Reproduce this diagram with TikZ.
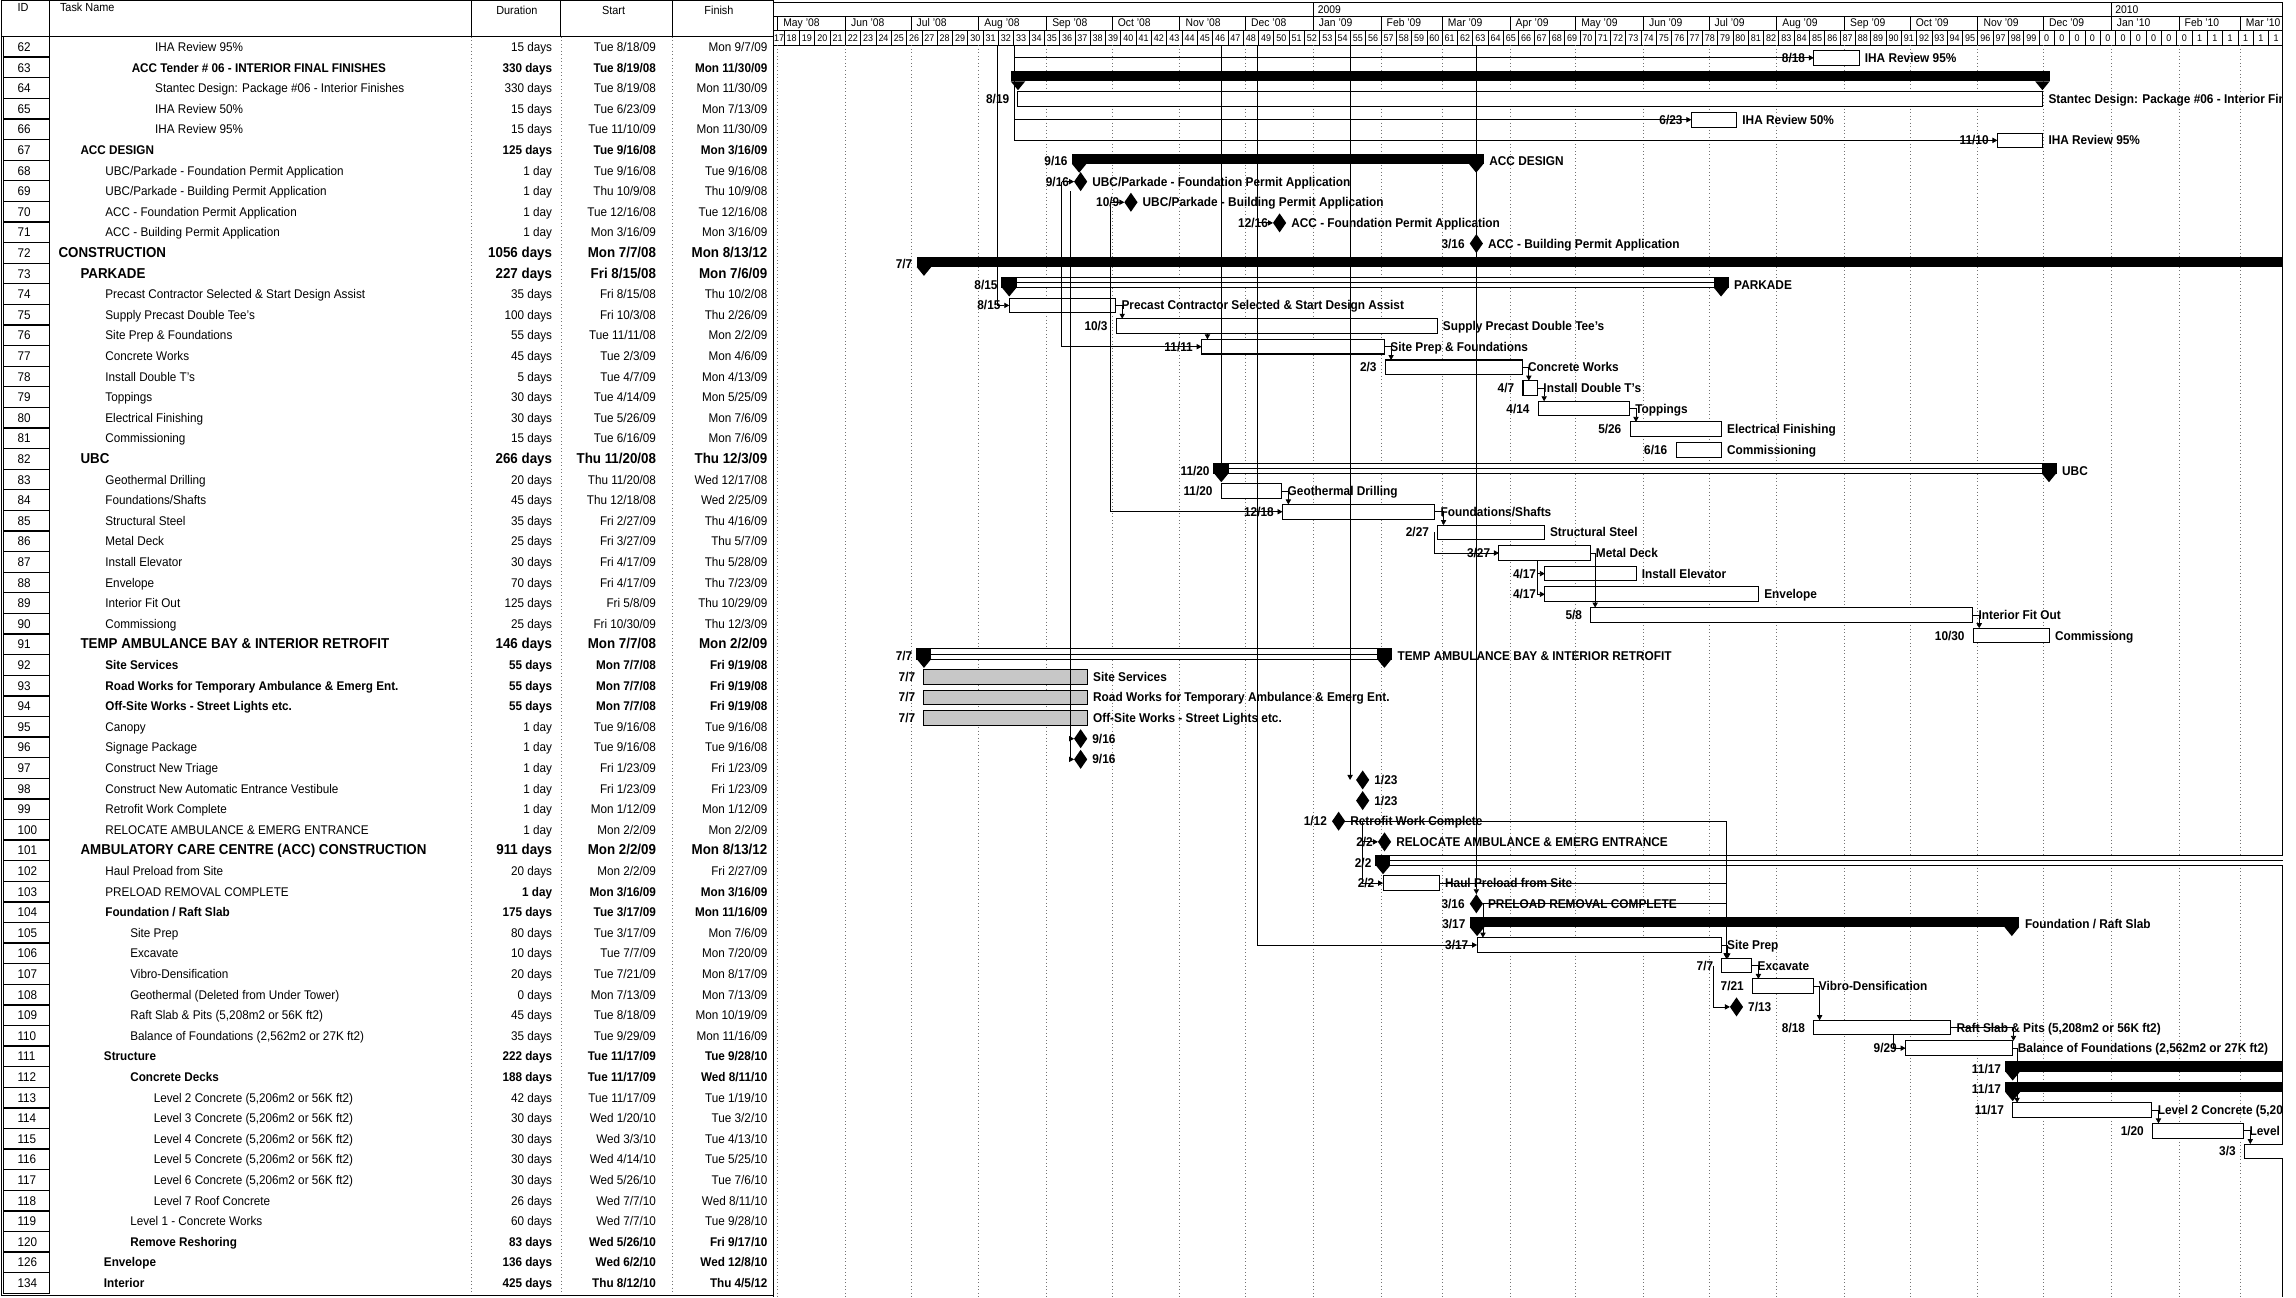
\documentclass[tikz,border=0pt]{standalone}
\usepackage{fontspec}
\setmainfont{Liberation Sans}[FakeStretch=0.93]
\usetikzlibrary{shapes.geometric,arrows.meta,calc}
\tikzset{
 every node/.style={inner sep=0pt,outer sep=0pt},
 link/.style={line width=0.55pt,-{Triangle[length=3.4pt,width=3.6pt]}},
 plainlink/.style={line width=0.55pt},
 taskbox/.style={rectangle,draw,line width=0.7pt,fill=white,minimum height=10pt},
 stipbox/.style={taskbox,fill=black!22},
 sumsolid/.style={rectangle,fill=black,minimum height=7pt},
 sumhollow/.style={rectangle,draw,line width=0.8pt,fill=white,minimum height=7pt},
 mile/.style={diamond,fill=black,minimum width=9pt,minimum height=13pt},
 clab/.style={font=\fontsize{8.7}{9}\selectfont\bfseries},
 tn/.style={font=\fontsize{8.6}{9}\selectfont},
 tb/.style={font=\fontsize{8.6}{9}\selectfont\bfseries},
 tB/.style={font=\fontsize{9.8}{10}\selectfont\bfseries},
 hdr/.style={font=\fontsize{8}{9}\selectfont},
 mon/.style={font=\fontsize{7.6}{8}\selectfont},
 wk/.style={font=\fontsize{6.6}{7}\selectfont},
 idbox/.style={line width=0.9pt},
 gridln/.style={black!55,line width=0.4pt,dotted},
 frame/.style={line width=0.8pt},
}
% table row: #1 index, #2 id, #3 indent, #4 name style, #5 name, #6 data style, #7 dur, #8 start, #9 finish
\newcommand\TRow[9]{%
 \pgfmathsetmacro\gty{32+14.07*#1}%
 \draw[idbox] (2.5,\gty-7.03) rectangle (34,\gty+7.03);%
 \node[tn,anchor=base west] (id#2) at (12,\gty+3.1) {#2};%
 \node[#4,anchor=base west] (nm#2) at (#3,\gty+3.1) {#5};%
 \node[#6,anchor=base east] (du#2) at (377,\gty+3.1) {#7};%
 \node[#6,anchor=base east] (st#2) at (448,\gty+3.1) {#8};%
 \node[#6,anchor=base east] (fi#2) at (524,\gty+3.1) {#9};%
}
\newcommand\RowY[1]{39.5+14.09*(#1)}
% task bar: #1 name, #2 row, #3 start day, #4 finish day, #5 left label, #6 right label, #7 style
\newcommand\Tsk[7]{%
 \pgfmathsetmacro\gxa{737+1.493*(#3)}%
 \pgfmathsetmacro\gxb{737+1.493*(#4+0.7)}%
 \pgfmathsetmacro\gyy{\RowY{#2}}%
 \pgfmathsetmacro\gww{\gxb-\gxa}%
 \node[#7,minimum width=\gww pt,anchor=west] (#1) at (\gxa,\gyy) {};%
 \node[clab,anchor=base east] (#1l) at (\gxa-6,\gyy+3.1) {#5};%
 \node[clab,anchor=base west] (#1r) at (\gxb+4,\gyy+3.1) {#6};%
}
\newcommand\Mil[5]{%
 \pgfmathsetmacro\gxa{737+1.493*(#3)+1}%
 \pgfmathsetmacro\gyy{\RowY{#2}}%
 \node[mile] (#1) at (\gxa,\gyy) {};%
 \node[clab,anchor=base east] (#1l) at (\gxa-8,\gyy+3.1) {#4};%
 \node[clab,anchor=base west] (#1r) at (\gxa+8,\gyy+3.1) {#5};%
}
\newcommand\SumS[6]{%
 \pgfmathsetmacro\gxa{737+1.493*(#3)}%
 \pgfmathsetmacro\gxb{737+1.493*(#4+0.6)}%
 \pgfmathsetmacro\gyy{\RowY{#2}}%
 \pgfmathsetmacro\gww{\gxb-\gxa+10}%
 \node[sumsolid,minimum width=\gww pt,anchor=west] (#1) at (\gxa-5,\gyy-1.5) {};%
 \fill (\gxa-5,\gyy+1.9) -- (\gxa+5,\gyy+1.9) -- (\gxa,\gyy+8) -- cycle;%
 \fill (\gxb-5,\gyy+1.9) -- (\gxb+5,\gyy+1.9) -- (\gxb,\gyy+8) -- cycle;%
 \node[clab,anchor=base east] (#1l) at (\gxa-8,\gyy+3.1) {#5};%
 \node[clab,anchor=base west] (#1r) at (\gxb+9,\gyy+3.1) {#6};%
}
\newcommand\SumH[6]{%
 \pgfmathsetmacro\gxa{737+1.493*(#3)}%
 \pgfmathsetmacro\gxb{737+1.493*(#4+0.6)}%
 \pgfmathsetmacro\gyy{\RowY{#2}}%
 \pgfmathsetmacro\gww{\gxb-\gxa+10}%
 \node[sumhollow,minimum width=\gww pt,anchor=west] (#1) at (\gxa-5,\gyy-1.5) {};%
 \draw[line width=0.5pt] (#1.west) -- (#1.east);%
 \fill (\gxa-5,\gyy-5) rectangle (\gxa+5,\gyy+2);%
 \fill (\gxa-5,\gyy+1.9) -- (\gxa+5,\gyy+1.9) -- (\gxa,\gyy+8) -- cycle;%
 \fill (\gxb-5,\gyy-5) rectangle (\gxb+5,\gyy+2);%
 \fill (\gxb-5,\gyy+1.9) -- (\gxb+5,\gyy+1.9) -- (\gxb,\gyy+8) -- cycle;%
 \node[clab,anchor=base east] (#1l) at (\gxa-8,\gyy+3.1) {#5};%
 \node[clab,anchor=base west] (#1r) at (\gxb+9,\gyy+3.1) {#6};%
}
\begin{document}
\begin{tikzpicture}[x=1pt,y=-1pt]
\useasboundingbox (0,0) rectangle (1568,886);
\fill[white] (0,0) rectangle (1568,886);
% ---------------- table frame and header ----------------
\draw[frame] (1,0.5) rectangle (528,25);
\foreach \cx in {34,322,383,459}{\draw[frame] (\cx,0.5) -- (\cx,25);}
\node[hdr,anchor=base west] (hID) at (12,8) {ID};
\node[hdr,anchor=base west] (hTN) at (41,8) {Task Name};
\node[hdr,anchor=base] (hDU) at (353,10) {Duration};
\node[hdr,anchor=base] (hST) at (419,10) {Start};
\node[hdr,anchor=base] (hFI) at (491,10) {Finish};
\draw[frame] (1,25) -- (1,884.5) -- (528,884.5);
\draw[frame] (528,0.5) -- (528,886);
\foreach \cx in {322,383,459}{\draw[gridln] (\cx,25) -- (\cx,884);}
% ---------------- table rows ----------------
\TRow{0}{62}{106}{tn}{IHA Review 95\%}{tn}{15 days}{Tue 8/18/09}{Mon 9/7/09}
\TRow{1}{63}{90}{tb}{ACC Tender \# 06 - INTERIOR FINAL FINISHES}{tb}{330 days}{Tue 8/19/08}{Mon 11/30/09}
\TRow{2}{64}{106}{tn}{Stantec Design: Package \#06 - Interior Finishes}{tn}{330 days}{Tue 8/19/08}{Mon 11/30/09}
\TRow{3}{65}{106}{tn}{IHA Review 50\%}{tn}{15 days}{Tue 6/23/09}{Mon 7/13/09}
\TRow{4}{66}{106}{tn}{IHA Review 95\%}{tn}{15 days}{Tue 11/10/09}{Mon 11/30/09}
\TRow{5}{67}{55}{tb}{ACC DESIGN}{tb}{125 days}{Tue 9/16/08}{Mon 3/16/09}
\TRow{6}{68}{72}{tn}{UBC/Parkade - Foundation Permit Application}{tn}{1 day}{Tue 9/16/08}{Tue 9/16/08}
\TRow{7}{69}{72}{tn}{UBC/Parkade - Building Permit Application}{tn}{1 day}{Thu 10/9/08}{Thu 10/9/08}
\TRow{8}{70}{72}{tn}{ACC - Foundation Permit Application}{tn}{1 day}{Tue 12/16/08}{Tue 12/16/08}
\TRow{9}{71}{72}{tn}{ACC - Building Permit Application}{tn}{1 day}{Mon 3/16/09}{Mon 3/16/09}
\TRow{10}{72}{40}{tB}{CONSTRUCTION}{tB}{1056 days}{Mon 7/7/08}{Mon 8/13/12}
\TRow{11}{73}{55}{tB}{PARKADE}{tB}{227 days}{Fri 8/15/08}{Mon 7/6/09}
\TRow{12}{74}{72}{tn}{Precast Contractor Selected \& Start Design Assist}{tn}{35 days}{Fri 8/15/08}{Thu 10/2/08}
\TRow{13}{75}{72}{tn}{Supply Precast Double Tee's}{tn}{100 days}{Fri 10/3/08}{Thu 2/26/09}
\TRow{14}{76}{72}{tn}{Site Prep \& Foundations}{tn}{55 days}{Tue 11/11/08}{Mon 2/2/09}
\TRow{15}{77}{72}{tn}{Concrete Works}{tn}{45 days}{Tue 2/3/09}{Mon 4/6/09}
\TRow{16}{78}{72}{tn}{Install Double T's}{tn}{5 days}{Tue 4/7/09}{Mon 4/13/09}
\TRow{17}{79}{72}{tn}{Toppings}{tn}{30 days}{Tue 4/14/09}{Mon 5/25/09}
\TRow{18}{80}{72}{tn}{Electrical Finishing}{tn}{30 days}{Tue 5/26/09}{Mon 7/6/09}
\TRow{19}{81}{72}{tn}{Commissioning}{tn}{15 days}{Tue 6/16/09}{Mon 7/6/09}
\TRow{20}{82}{55}{tB}{UBC}{tB}{266 days}{Thu 11/20/08}{Thu 12/3/09}
\TRow{21}{83}{72}{tn}{Geothermal Drilling}{tn}{20 days}{Thu 11/20/08}{Wed 12/17/08}
\TRow{22}{84}{72}{tn}{Foundations/Shafts}{tn}{45 days}{Thu 12/18/08}{Wed 2/25/09}
\TRow{23}{85}{72}{tn}{Structural Steel}{tn}{35 days}{Fri 2/27/09}{Thu 4/16/09}
\TRow{24}{86}{72}{tn}{Metal Deck}{tn}{25 days}{Fri 3/27/09}{Thu 5/7/09}
\TRow{25}{87}{72}{tn}{Install Elevator}{tn}{30 days}{Fri 4/17/09}{Thu 5/28/09}
\TRow{26}{88}{72}{tn}{Envelope}{tn}{70 days}{Fri 4/17/09}{Thu 7/23/09}
\TRow{27}{89}{72}{tn}{Interior Fit Out}{tn}{125 days}{Fri 5/8/09}{Thu 10/29/09}
\TRow{28}{90}{72}{tn}{Commissiong}{tn}{25 days}{Fri 10/30/09}{Thu 12/3/09}
\TRow{29}{91}{55}{tB}{TEMP AMBULANCE BAY \& INTERIOR RETROFIT}{tB}{146 days}{Mon 7/7/08}{Mon 2/2/09}
\TRow{30}{92}{72}{tb}{Site Services}{tb}{55 days}{Mon 7/7/08}{Fri 9/19/08}
\TRow{31}{93}{72}{tb}{Road Works for Temporary Ambulance \& Emerg Ent.}{tb}{55 days}{Mon 7/7/08}{Fri 9/19/08}
\TRow{32}{94}{72}{tb}{Off-Site Works - Street Lights etc.}{tb}{55 days}{Mon 7/7/08}{Fri 9/19/08}
\TRow{33}{95}{72}{tn}{Canopy}{tn}{1 day}{Tue 9/16/08}{Tue 9/16/08}
\TRow{34}{96}{72}{tn}{Signage Package}{tn}{1 day}{Tue 9/16/08}{Tue 9/16/08}
\TRow{35}{97}{72}{tn}{Construct New Triage}{tn}{1 day}{Fri 1/23/09}{Fri 1/23/09}
\TRow{36}{98}{72}{tn}{Construct New Automatic Entrance Vestibule}{tn}{1 day}{Fri 1/23/09}{Fri 1/23/09}
\TRow{37}{99}{72}{tn}{Retrofit Work Complete}{tn}{1 day}{Mon 1/12/09}{Mon 1/12/09}
\TRow{38}{100}{72}{tn}{RELOCATE AMBULANCE \& EMERG ENTRANCE}{tn}{1 day}{Mon 2/2/09}{Mon 2/2/09}
\TRow{39}{101}{55}{tB}{AMBULATORY CARE CENTRE (ACC) CONSTRUCTION}{tB}{911 days}{Mon 2/2/09}{Mon 8/13/12}
\TRow{40}{102}{72}{tn}{Haul Preload from Site}{tn}{20 days}{Mon 2/2/09}{Fri 2/27/09}
\TRow{41}{103}{72}{tn}{PRELOAD REMOVAL COMPLETE}{tb}{1 day}{Mon 3/16/09}{Mon 3/16/09}
\TRow{42}{104}{72}{tb}{Foundation / Raft Slab}{tb}{175 days}{Tue 3/17/09}{Mon 11/16/09}
\TRow{43}{105}{89}{tn}{Site Prep}{tn}{80 days}{Tue 3/17/09}{Mon 7/6/09}
\TRow{44}{106}{89}{tn}{Excavate}{tn}{10 days}{Tue 7/7/09}{Mon 7/20/09}
\TRow{45}{107}{89}{tn}{Vibro-Densification}{tn}{20 days}{Tue 7/21/09}{Mon 8/17/09}
\TRow{46}{108}{89}{tn}{Geothermal (Deleted from Under Tower)}{tn}{0 days}{Mon 7/13/09}{Mon 7/13/09}
\TRow{47}{109}{89}{tn}{Raft Slab \& Pits (5,208m2 or 56K ft2)}{tn}{45 days}{Tue 8/18/09}{Mon 10/19/09}
\TRow{48}{110}{89}{tn}{Balance of Foundations (2,562m2 or 27K ft2)}{tn}{35 days}{Tue 9/29/09}{Mon 11/16/09}
\TRow{49}{111}{71}{tb}{Structure}{tb}{222 days}{Tue 11/17/09}{Tue 9/28/10}
\TRow{50}{112}{89}{tb}{Concrete Decks}{tb}{188 days}{Tue 11/17/09}{Wed 8/11/10}
\TRow{51}{113}{105}{tn}{Level 2 Concrete (5,206m2 or 56K ft2)}{tn}{42 days}{Tue 11/17/09}{Tue 1/19/10}
\TRow{52}{114}{105}{tn}{Level 3 Concrete (5,206m2 or 56K ft2)}{tn}{30 days}{Wed 1/20/10}{Tue 3/2/10}
\TRow{53}{115}{105}{tn}{Level 4 Concrete (5,206m2 or 56K ft2)}{tn}{30 days}{Wed 3/3/10}{Tue 4/13/10}
\TRow{54}{116}{105}{tn}{Level 5 Concrete (5,206m2 or 56K ft2)}{tn}{30 days}{Wed 4/14/10}{Tue 5/25/10}
\TRow{55}{117}{105}{tn}{Level 6 Concrete (5,206m2 or 56K ft2)}{tn}{30 days}{Wed 5/26/10}{Tue 7/6/10}
\TRow{56}{118}{105}{tn}{Level 7 Roof Concrete}{tn}{26 days}{Wed 7/7/10}{Wed 8/11/10}
\TRow{57}{119}{89}{tn}{Level 1 - Concrete Works}{tn}{60 days}{Wed 7/7/10}{Tue 9/28/10}
\TRow{58}{120}{89}{tb}{Remove Reshoring}{tb}{83 days}{Wed 5/26/10}{Fri 9/17/10}
\TRow{59}{126}{71}{tb}{Envelope}{tb}{136 days}{Wed 6/2/10}{Wed 12/8/10}
\TRow{60}{134}{71}{tb}{Interior}{tb}{425 days}{Thu 8/12/10}{Thu 4/5/12}
% ---------------- chart header ----------------
\begin{scope}
\clip (528,0) rectangle (1559,32);
\draw[frame] (528,1.5) -- (1559,1.5);
\draw (528,11) -- (1559,11);
\draw (528,20.5) -- (1559,20.5);
\draw[frame] (528,31) -- (1559,31);
\draw (897,1.5) -- (897,11);
\draw (1441.7,1.5) -- (1441.7,11);
\node[mon,anchor=base west] (y2009) at (900,9.3) {2009};
\node[mon,anchor=base west] (y2010) at (1444.7,9.3) {2010};
\foreach \d/\m [count=\c] in {-138/May '08,-107/Jun '08,-77/Jul '08,-46/Aug '08,-15/Sep '08,15/Oct '08,46/Nov '08,76/Dec '08,107/Jan '09,138/Feb '09,166/Mar '09,197/Apr '09,227/May '09,258/Jun '09,288/Jul '09,319/Aug '09,350/Sep '09,380/Oct '09,411/Nov '09,441/Dec '09,472/Jan '10,503/Feb '10,531/Mar '10}{
  \pgfmathsetmacro\gmx{737+1.493*(\d)}
  \draw (\gmx,11) -- (\gmx,20.5);
  \node[mon,anchor=base west] (mo\c) at (\gmx+4,18.4) {\m};
}
\foreach \k in {17,...,115}{
  \pgfmathsetmacro\gwx{525+(\k-17)*10.451}
  \pgfmathsetmacro\gwc{max(\gwx+5.2,532)}
  \pgfmathtruncatemacro\glab{\k<100 ? \k : (\k<110 ? 0 : 1)}
  \draw (\gwx,20.5) -- (\gwx,31);
  \node[wk,anchor=base] (w\k) at (\gwc,28.6) {\glab};
}
\end{scope}
\draw[frame] (1559,1.5) -- (1559,886);
% ---------------- chart body ----------------
\begin{scope}
\clip (528,31) rectangle (1559,886);
\foreach \d in {-138,-107,-77,-46,-15,15,46,76,107,138,166,197,227,258,288,319,350,380,411,441,472,503,531}{
  \pgfmathsetmacro\gmx{737+1.493*(\d)}
  \draw[gridln] (\gmx,31) -- (\gmx,886);
}
\Tsk{b62}{0}{336}{356}{8/18}{IHA Review 95\%}{taskbox}
\SumS{s63}{1}{-28}{440}{}{}
\Tsk{b64}{2}{-28}{440}{8/19}{Stantec Design: Package \#06 - Interior Finishes}{taskbox}
\Tsk{b65}{3}{280}{300}{6/23}{IHA Review 50\%}{taskbox}
\Tsk{b66}{4}{420}{440}{11/10}{IHA Review 95\%}{taskbox}
\SumS{s67}{5}{0}{181}{9/16}{ACC DESIGN}
\Mil{m68}{6}{0}{9/16}{UBC/Parkade - Foundation Permit Application}
\Mil{m69}{7}{23}{10/9}{UBC/Parkade - Building Permit Application}
\Mil{m70}{8}{91}{12/16}{ACC - Foundation Permit Application}
\Mil{m71}{9}{181}{3/16}{ACC - Building Permit Application}
\SumS{s72}{10}{-71}{700}{7/7}{}
\SumH{s73}{11}{-32}{293}{8/15}{PARKADE}
\Tsk{b74}{12}{-32}{16}{8/15}{Precast Contractor Selected \& Start Design Assist}{taskbox}
\Tsk{b75}{13}{17}{163}{10/3}{Supply Precast Double Tee's}{taskbox}
\Tsk{b76}{14}{56}{139}{11/11}{Site Prep \& Foundations}{taskbox}
\Tsk{b77}{15}{140}{202}{2/3}{Concrete Works}{taskbox}
\Tsk{b78}{16}{203}{209}{4/7}{Install Double T's}{taskbox}
\Tsk{b79}{17}{210}{251}{4/14}{Toppings}{taskbox}
\Tsk{b80}{18}{252}{293}{5/26}{Electrical Finishing}{taskbox}
\Tsk{b81}{19}{273}{293}{6/16}{Commissioning}{taskbox}
\SumH{s82}{20}{65}{443}{11/20}{UBC}
\Tsk{b83}{21}{65}{92}{11/20}{Geothermal Drilling}{taskbox}
\Tsk{b84}{22}{93}{162}{12/18}{Foundations/Shafts}{taskbox}
\Tsk{b85}{23}{164}{212}{2/27}{Structural Steel}{taskbox}
\Tsk{b86}{24}{192}{233}{3/27}{Metal Deck}{taskbox}
\Tsk{b87}{25}{213}{254}{4/17}{Install Elevator}{taskbox}
\Tsk{b88}{26}{213}{310}{4/17}{Envelope}{taskbox}
\Tsk{b89}{27}{234}{408}{5/8}{Interior Fit Out}{taskbox}
\Tsk{b90}{28}{409}{443}{10/30}{Commissiong}{taskbox}
\SumH{s91}{29}{-71}{139}{7/7}{TEMP AMBULANCE BAY \& INTERIOR RETROFIT}
\Tsk{b92}{30}{-71}{3}{7/7}{Site Services}{stipbox}
\Tsk{b93}{31}{-71}{3}{7/7}{Road Works for Temporary Ambulance \& Emerg Ent.}{stipbox}
\Tsk{b94}{32}{-71}{3}{7/7}{Off-Site Works - Street Lights etc.}{stipbox}
\Mil{m95}{33}{0}{}{9/16}
\Mil{m96}{34}{0}{}{9/16}
\Mil{m97}{35}{129}{}{1/23}
\Mil{m98}{36}{129}{}{1/23}
\Mil{m99}{37}{118}{1/12}{Retrofit Work Complete}
\Mil{m100}{38}{139}{2/2}{RELOCATE AMBULANCE \& EMERG ENTRANCE}
\SumH{s101}{39}{139}{700}{2/2}{}
\Tsk{b102}{40}{139}{164}{2/2}{Haul Preload from Site}{taskbox}
\Mil{m103}{41}{181}{3/16}{PRELOAD REMOVAL COMPLETE}
\SumS{s104}{42}{182}{426}{3/17}{Foundation / Raft Slab}
\Tsk{b105}{43}{182}{293}{3/17}{Site Prep}{taskbox}
\Tsk{b106}{44}{294}{307}{7/7}{Excavate}{taskbox}
\Tsk{b107}{45}{308}{335}{7/21}{Vibro-Densification}{taskbox}
\Mil{m108}{46}{300}{}{7/13}
\Tsk{b109}{47}{336}{398}{8/18}{Raft Slab \& Pits (5,208m2 or 56K ft2)}{taskbox}
\Tsk{b110}{48}{378}{426}{9/29}{Balance of Foundations (2,562m2 or 27K ft2)}{taskbox}
\SumS{s111}{49}{427}{700}{11/17}{}
\SumS{s112}{50}{427}{700}{11/17}{}
\Tsk{b113}{51}{427}{490}{11/17}{Level 2 Concrete (5,206m2 or 56K ft2)}{taskbox}
\Tsk{b114}{52}{491}{532}{1/20}{Level 3 Concrete (5,206m2 or 56K ft2)}{taskbox}
\Tsk{b115}{53}{533}{573}{3/3}{Level 4 Concrete (5,206m2 or 56K ft2)}{taskbox}
% ---------------- links ----------------
\coordinate (t693) at (693,31);
\draw[link] (t693) |- (b62.west);
\draw[link] (t693) |- (b65.west);
\draw[link] (t693) |- (b66.west);
\coordinate (t681) at (681,31);
\draw[link] (t681) |- (b74.west);
\coordinate (c725) at ([xshift=-13pt]m68.center);
\draw[link] (c725) -- (m68.west);
\draw[link] (c725) |- (b76.west);
\coordinate (c731) at ([xshift=-7pt]m68.south);
\draw[link] (c731) |- (m95.west);
\draw[link] (c731) |- (m96.west);
\coordinate (c758) at ([xshift=-14pt]m69.center);
\draw[link] (c758) -- (m69.west);
\draw[link] (c758) |- (b84.west);
\coordinate (t834) at (834,31);
\draw[plainlink] (t834) -- (t834 |- s82.north);
\coordinate (t859) at (859,31);
\draw[link] (t859) |- (b105.west);
\draw[link] (t859 |- m70) -- (m70.west);
\coordinate (t922) at (922,31);
\draw[link] (t922) -- (t922 |- m97.center);
\coordinate (t1008) at (m71 |- t922);
\draw[link] (t1008) -- (m103.north);
\draw[link] (m103.east) -| ([xshift=4pt]b105.north west);
\draw[link] (m99.east) -| ([xshift=3pt]b106.north west);
\draw[link] (b102.east) -| ([xshift=3pt]b106.north west);
\draw[link] (m103.east) -| ([xshift=3pt]b106.north west);
\coordinate (c930) at ([xshift=16pt]m99.center);
\draw[link] (c930) |- (m100.west);
\draw[link] (c930) |- (b102.west);
\draw[link] (b105.east) -| ([xshift=4pt]b106.north west);
\draw[link] (b106.east) -| ([xshift=4pt]b107.north west);
\coordinate (c1170) at ([xshift=-6pt]b106.west);
\draw[link] (c1170) |- (m108.west);
\draw[link] (b107.east) -| ([xshift=4pt]b109.north west);
\coordinate (c110) at ([xshift=-8pt]b110.west);
\coordinate (c109) at (c110 |- b109.south);
\draw[link] (c109) |- (b110.west);
\draw[link] (b109.east) -| ([xshift=1pt]b110.north east);
\draw[link] (b110.east) -| ([xshift=3pt]b113.north west);
\draw[link] (b113.east) -| ([xshift=4pt]b114.north west);
\draw[link] (b114.east) -| ([xshift=4pt]b115.north west);
\draw[link] (b74.east) -| ([xshift=4pt]b75.north west);
\coordinate (c76a) at ([xshift=4pt]b76.north west);
\coordinate (c76) at (c76a |- b75.south);
\draw[link] (c76) -- (c76a);
\draw[link] (b76.east) -| ([xshift=4pt]b77.north west);
\draw[link] (b77.east) -| ([xshift=4pt]b78.north west);
\draw[link] (b78.east) -| ([xshift=4pt]b79.north west);
\draw[link] (b79.east) -| ([xshift=4pt]b80.north west);
\draw[link] (b83.east) -| ([xshift=4pt]b84.north west);
\draw[link] (b84.east) -| ([xshift=4pt]b85.north west);
\coordinate (c85) at ([xshift=-2pt]b85.west);
\draw[link] (c85) |- (b86.west);
\coordinate (c86a) at ([xshift=-5pt]b87.west);
\coordinate (c86) at (c86a |- b86.south);
\draw[link] (c86) |- (b87.west);
\draw[link] (c86) |- (b88.west);
\draw[link] (b86.east) -| ([xshift=3pt]b89.north west);
\draw[link] (b89.east) -| ([xshift=4pt]b90.north west);
\end{scope}
\end{tikzpicture}
\end{document}
